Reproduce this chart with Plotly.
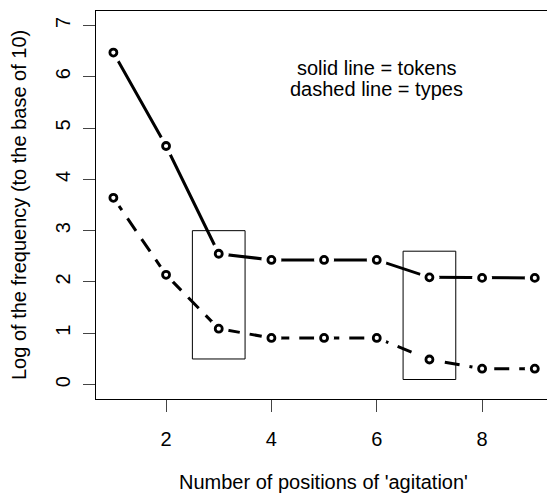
import plotly.graph_objects as go

# ---- data ----
positions = [1, 2, 3, 4, 5, 6, 7, 8, 9]
log_tokens = [6.47, 4.65, 2.55, 2.43, 2.43, 2.43, 2.09, 2.08, 2.08]
log_types = [3.64, 2.14, 1.09, 0.91, 0.91, 0.91, 0.49, 0.31, 0.31]
x_ticks = [2, 4, 6, 8]
y_ticks = [0, 1, 2, 3, 4, 5, 6, 7]
box_x0 = [2.5, 6.5]
box_x1 = [3.5, 7.5]
box_y0 = [0.5, 0.1]
box_y1 = [3.0, 2.6]
note_lines = ["solid line = tokens", "dashed line = types"]

FONT = "Liberation Sans, Arial, sans-serif"
FS = 20

fig = go.Figure()

# lines
fig.add_trace(go.Scatter(x=positions, y=log_tokens, mode="lines",
                         line=dict(color="black", width=3), hoverinfo="skip"))
fig.add_trace(go.Scatter(x=positions, y=log_types, mode="lines",
                         line=dict(color="black", width=3, dash="15px,10px"),
                         hoverinfo="skip"))
# white gaps around points (R type="b")
for ys in (log_tokens, log_types):
    fig.add_trace(go.Scatter(x=positions, y=ys, mode="markers",
                             marker=dict(size=20, color="white", line=dict(width=0)),
                             hoverinfo="skip"))
# open circle points
for ys in (log_tokens, log_types):
    fig.add_trace(go.Scatter(x=positions, y=ys, mode="markers",
                             marker=dict(size=7, color="white",
                                         line=dict(color="black", width=2.8))))

# rectangles
for a, b, c, d in zip(box_x0, box_x1, box_y0, box_y1):
    fig.add_shape(type="rect", x0=a, x1=b, y0=c, y1=d, xref="x", yref="y",
                  line=dict(color="black", width=1), layer="below")

# note text
fig.add_annotation(x=6, y=6.17, xref="x", yref="y", text=note_lines[0],
                   showarrow=False, xanchor="center", yanchor="middle",
                   font=dict(family=FONT, size=FS, color="black"))
fig.add_annotation(x=6, y=5.76, xref="x", yref="y", text=note_lines[1],
                   showarrow=False, xanchor="center", yanchor="middle",
                   font=dict(family=FONT, size=FS, color="black"))

# axis titles
fig.add_annotation(x=0.5044, y=-0.2139, xref="paper", yref="paper",
                   text="Number of positions of 'agitation'", showarrow=False,
                   xanchor="center", yanchor="middle",
                   font=dict(family=FONT, size=FS, color="black"))
fig.add_annotation(x=-0.1707, y=0.5, xref="paper", yref="paper",
                   text="Log of the frequency (to the base of 10)", showarrow=False,
                   textangle=-90, xanchor="center", yanchor="middle",
                   font=dict(family=FONT, size=FS, color="black"))

fig.update_layout(
    width=547, height=493,
    margin=dict(l=96, r=0, t=11, b=94, pad=0),
    plot_bgcolor="white", paper_bgcolor="white",
    showlegend=False,
    font=dict(family=FONT, size=FS, color="black"),
    xaxis=dict(range=[0.670, 9.232], tickmode="array", tickvals=x_ticks,
               ticktext=[str(v) for v in x_ticks],
               showgrid=False, zeroline=False, showline=True, mirror=True,
               linecolor="black", linewidth=1, ticks="outside", ticklen=12,
               tickwidth=1, tickcolor="#444", ticklabelstandoff=10,
               automargin=False, tickfont=dict(family=FONT, size=FS, color="black")),
    yaxis=dict(range=[-0.28, 7.28], tickmode="array", tickvals=y_ticks,
               ticktext=[str(v) for v in y_ticks],
               showgrid=False, zeroline=False, showline=True, mirror=False,
               linecolor="black", linewidth=1, ticks="outside", ticklen=12,
               tickwidth=1, tickcolor="#444", tickangle=-90, ticklabelstandoff=5,
               automargin=False, tickfont=dict(family=FONT, size=FS, color="black")),
)

fig.write_html("out.html")
